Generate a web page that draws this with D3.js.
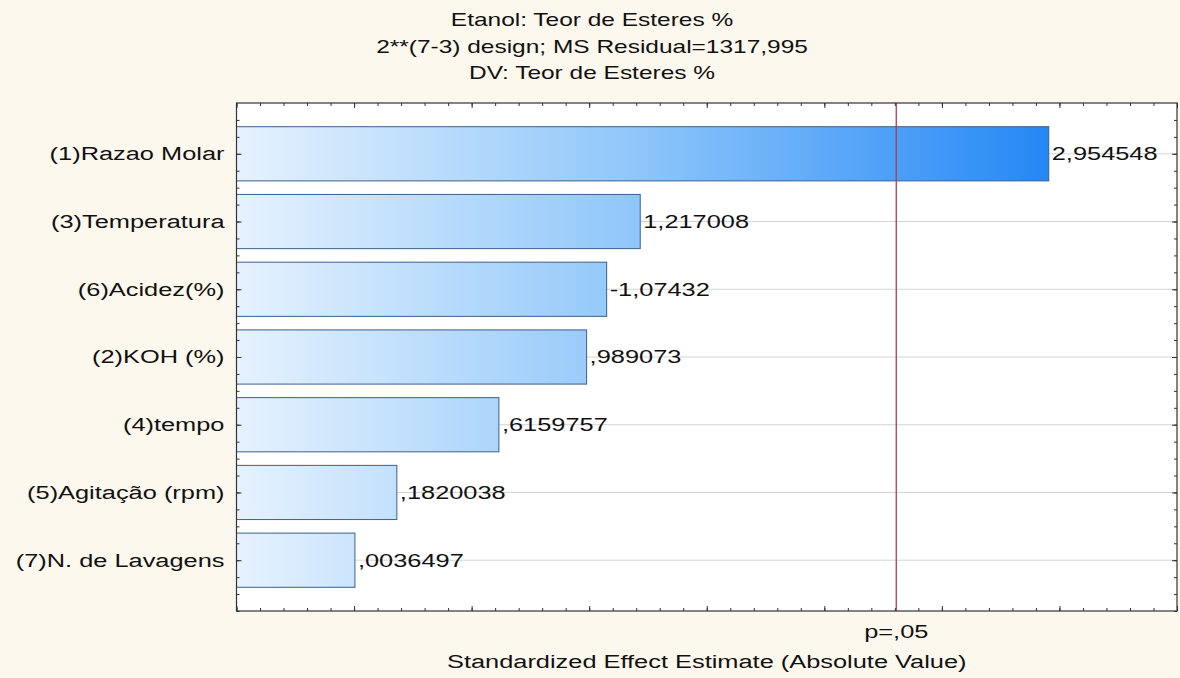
<!DOCTYPE html>
<html>
<head>
<meta charset="utf-8">
<script src="https://cdn.jsdelivr.net/npm/d3@7"></script>
<style>
  html, body { margin: 0; padding: 0; background: #fdf8ed; }
  svg { display: block; font-family: "Liberation Sans", Arial, sans-serif; }
</style>
</head>
<body>
<svg id="chart" width="1180" height="678"></svg>
<script>
// Pareto chart of standardized effects
const titleLines = [
  "Etanol: Teor de Esteres %",
  "2**(7-3) design; MS Residual=1317,995",
  "DV: Teor de Esteres %"
];
const factors = [
  "(1)Razao Molar",
  "(3)Temperatura",
  "(6)Acidez(%)",
  "(2)KOH (%)",
  "(4)tempo",
  "(5)Agitação (rpm)",
  "(7)N. de Lavagens"
];
const effects = [2.954548, 1.217008, -1.07432, 0.989073, 0.6159757, 0.1820038, 0.0036497];
const pCritical = 2.306004;   // t(0.975; df = 8)
const pLabel = "p=,05";
const xTitle = "Standardized Effect Estimate (Absolute Value)";

const svg = d3.select("#chart");
const plot = { left: 236.5, right: 1177, top: 103, bottom: 611 };
const textStretch = 1.41;   // wide rendering of the label font

const x = d3.scaleLinear().domain([-0.5, 3.5]).range([plot.left, plot.right]);
const y = d3.scaleLinear().domain([0.25, factors.length + 0.75]).range([plot.top, plot.bottom]);

// Decimal comma, no leading zero
const fmt = v => String(v).replace(/^(-?)0\./, "$1.").replace(".", ",");

// Place a horizontally stretched text at (px, py)
function stretched(sel, px, py, sx) {
  return sel.attr("x", 0).attr("y", 0)
    .attr("transform", (d, i) => `translate(${px(d, i)},${py(d, i)}) scale(${sx},1)`);
}

// Gradient for bars, spread over the plot width
const defs = svg.append("defs");
const grad = defs.append("linearGradient")
  .attr("id", "barFill")
  .attr("gradientUnits", "userSpaceOnUse")
  .attr("x1", x(-0.5)).attr("x2", x(3.0)).attr("y1", 0).attr("y2", 0);
grad.append("stop").attr("offset", "0%").attr("stop-color", "#e6f2fe");
grad.append("stop").attr("offset", "49%").attr("stop-color", "#8ec6fa");
grad.append("stop").attr("offset", "100%").attr("stop-color", "#2286f5");

// Plot background
svg.append("rect")
  .attr("x", plot.left).attr("y", plot.top)
  .attr("width", plot.right - plot.left).attr("height", plot.bottom - plot.top)
  .attr("fill", "#ffffff");

// Gridlines at category centres
svg.append("g")
  .selectAll("line")
  .data(factors)
  .join("line")
  .attr("x1", plot.left).attr("x2", plot.right)
  .attr("y1", (d, i) => y(i + 1)).attr("y2", (d, i) => y(i + 1))
  .attr("stroke", "#d4d4d4").attr("stroke-width", 1);

// Bars
const barH = y(1.8) - y(1);
svg.append("g")
  .selectAll("rect")
  .data(effects)
  .join("rect")
  .attr("x", x(-0.5))
  .attr("y", (d, i) => y(i + 1) - barH / 2)
  .attr("width", d => x(Math.abs(d)) - x(-0.5))
  .attr("height", barH)
  .attr("fill", "url(#barFill)")
  .attr("stroke", "#3b5f8c")
  .attr("stroke-width", 1);

// Value labels
svg.append("g")
  .selectAll("text")
  .data(effects)
  .join("text")
  .call(stretched, d => x(Math.abs(d)) + 3, (d, i) => y(i + 1), textStretch)
  .attr("dy", "0.36em")
  .attr("font-size", 18)
  .attr("fill", "#111")
  .text(d => fmt(d));

// Significance line
svg.append("line")
  .attr("x1", x(pCritical)).attr("x2", x(pCritical))
  .attr("y1", plot.top).attr("y2", plot.bottom)
  .attr("stroke", "#b23a55").attr("stroke-width", 1.3);

// Tick marks (inward, unlabelled)
const xMinor = d3.range(-5, 36).map(k => k / 10);
const xMajor = d3.range(-1, 8).map(k => k / 2);
function xTicks(axisFn, yPos, vals, len) {
  svg.append("g")
    .attr("transform", `translate(0,${yPos})`)
    .call(axisFn(x).tickValues(vals).tickSize(len).tickFormat(""))
    .call(g => g.select(".domain").remove())
    .call(g => g.selectAll("line").attr("stroke", "#333"));
}
xTicks(d3.axisBottom, plot.top, xMinor, 3);
xTicks(d3.axisBottom, plot.top, xMajor, 5);
xTicks(d3.axisTop, plot.bottom, xMinor, 3);
xTicks(d3.axisTop, plot.bottom, xMajor, 5);

const yMinor = d3.range(1, 31).map(k => k / 4 + 0.25);
const yMajor = d3.range(1, factors.length + 1);
function yTicks(axisFn, xPos, vals, len) {
  svg.append("g")
    .attr("transform", `translate(${xPos},0)`)
    .call(axisFn(y).tickValues(vals).tickSize(len).tickFormat(""))
    .call(g => g.select(".domain").remove())
    .call(g => g.selectAll("line").attr("stroke", "#333"));
}
yTicks(d3.axisRight, plot.left, yMinor, 3);
yTicks(d3.axisRight, plot.left, yMajor, 5);
yTicks(d3.axisLeft, plot.right, yMinor, 3);
yTicks(d3.axisLeft, plot.right, yMajor, 5);

// Frame
svg.append("rect")
  .attr("x", plot.left).attr("y", plot.top)
  .attr("width", plot.right - plot.left).attr("height", plot.bottom - plot.top)
  .attr("fill", "none").attr("stroke", "#333").attr("stroke-width", 1.2);

// Category labels
svg.append("g")
  .selectAll("text")
  .data(factors)
  .join("text")
  .call(stretched, () => plot.left - 12, (d, i) => y(i + 1), textStretch)
  .attr("dy", "0.36em")
  .attr("text-anchor", "end")
  .attr("font-size", 18)
  .attr("fill", "#111")
  .text(d => d);

// Titles
svg.append("g")
  .selectAll("text")
  .data(titleLines)
  .join("text")
  .call(stretched, () => 592, (d, i) => 20 + i * 26.5, 1.36)
  .attr("dy", "0.36em")
  .attr("text-anchor", "middle")
  .attr("font-size", 18)
  .attr("fill", "#111")
  .text(d => d);

// p = .05 label and axis title
svg.append("text")
  .call(stretched, () => x(pCritical), () => 632, textStretch)
  .attr("dy", "0.36em")
  .attr("text-anchor", "middle").attr("font-size", 18).attr("fill", "#111")
  .text(pLabel);
svg.append("text")
  .call(stretched, () => (plot.left + plot.right) / 2, () => 662, textStretch)
  .attr("dy", "0.36em")
  .attr("text-anchor", "middle").attr("font-size", 18).attr("fill", "#111")
  .text(xTitle);
</script>
</body>
</html>
